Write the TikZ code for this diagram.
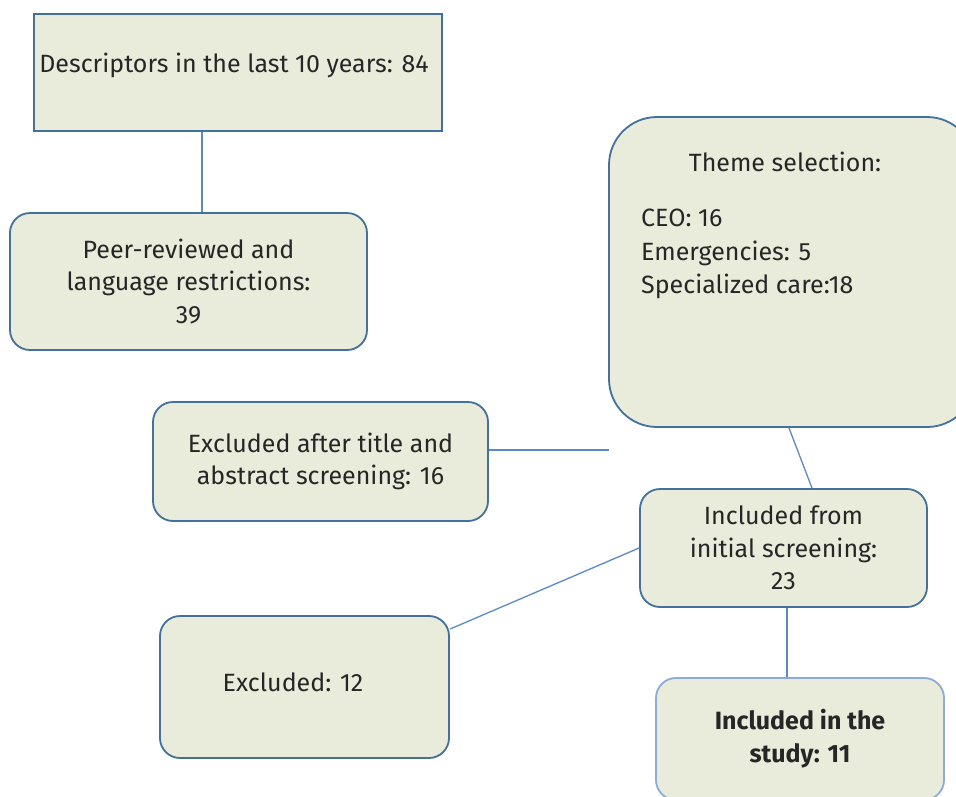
\documentclass[tikz,border=0pt]{standalone}
\usepackage{fontspec}
\setmainfont{Fira Sans}
\definecolor{boxfill}{HTML}{E9ECDB}
\definecolor{boxline}{HTML}{41719C}
\definecolor{connline}{HTML}{5A8AC6}
\definecolor{lightline}{HTML}{8EAADC}
\definecolor{txt}{HTML}{262626}
\begin{document}
\begin{tikzpicture}[x=1pt,y=-1pt,
  box/.style={draw=boxline, line width=1.8pt, fill=boxfill, rounded corners=20pt,
    inner sep=0pt, align=center, text=txt, font=\fontsize{25}{32.5}\selectfont},
  txtnode/.style={inner sep=0pt, text=txt, font=\fontsize{25}{33.5}\selectfont},
  connector/.style={draw=connline, line width=1.3pt}]
\useasboundingbox (0,0) rectangle (956,796);
\clip (0,0) rectangle (956,796);
\fill[white] (0,0) rectangle (956,796);
% boxes
\node[box, sharp corners, minimum width=408pt, minimum height=117pt] (desc) at (238,72.5) {};
\node[txtnode] (desct) at (234,65) {Descriptors in the last 10 years: 84};
\node[box, minimum width=357pt, minimum height=137pt] (peer) at (188.5,281.5)
  {Peer-reviewed and\\ language restrictions:\\ 39};
\node[box, rounded corners=48pt, minimum width=366pt, minimum height=310pt] (theme) at (792,272) {};
\node[txtnode] (themet) at (785,162) {Theme selection:};
\node[txtnode, align=left, anchor=west] (themel) at (641,254) {CEO: 16\\ Emergencies: 5\\ Specialized care:18};
\node[box, minimum width=335pt, minimum height=119pt] (exc1) at (320.5,461.5)
  {Excluded after title and\\ abstract screening: 16};
\node[box, minimum width=287pt, minimum height=118pt] (incl) at (783.5,548)
  {Included from\\ initial screening:\\ 23};
\node[box, minimum width=289pt, minimum height=142pt] (exc2) at (304.5,687) {};
\node[txtnode] (exc2t) at (293,682) {Excluded: 12};
\node[box, draw=lightline, minimum width=288pt, minimum height=122pt,
  font=\fontsize{25}{33}\selectfont\bfseries] (study) at (800,739)
  {Included in the\\ study: 11};
\coordinate (free) at (609,450);
% connectors
\draw[connector] ([xshift=169pt]desc.south west) -- ([xshift=193pt]peer.north west);
\draw[connector] ([yshift=11.5pt]exc1.east) -- (free);
\draw[connector] ([xshift=-3pt]theme.south) -- ([xshift=28.5pt]incl.north);
\draw[connector] (incl.west) -- ([yshift=-14pt]exc2.north east);
\draw[connector] ([xshift=3.5pt]incl.south) -- ([xshift=-13pt]study.north);
\end{tikzpicture}
\end{document}
